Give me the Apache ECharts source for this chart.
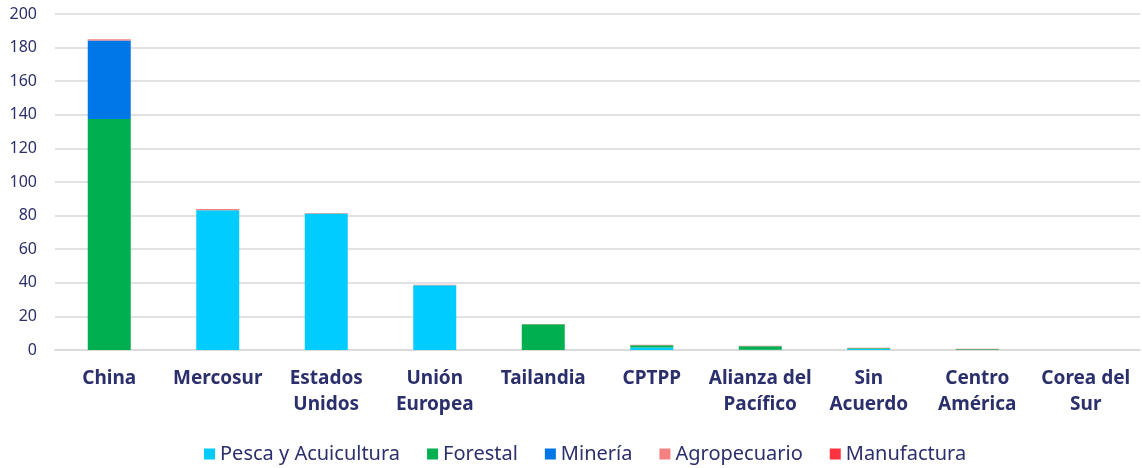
<!DOCTYPE html>
<html><head><meta charset="utf-8">
<script src="https://cdn.jsdelivr.net/npm/echarts@6/dist/echarts.min.js"></script>
<style>html,body{margin:0;padding:0;background:#fff}#c{width:1142px;height:468px}</style>
</head><body><div id="c"></div>
<script>
const categories = ["China","Mercosur","Estados\nUnidos","Unión\nEuropea","Tailandia","CPTPP","Alianza del\nPacífico","Sin\nAcuerdo","Centro\nAmérica","Corea del\nSur"];
const pesca = [0, 83.2, 81.2, 38.6, 0, 1.5, 0.1, 0.6, 0, 0];
const forestal = [137.5, 0, 0, 0, 15.4, 1.3, 2.2, 0.5, 0.4, 0];
const mineria = [46.8, 0, 0, 0, 0, 0, 0, 0, 0, 0];
const agropecuario = [0.6, 0.7, 0.4, 0.2, 0.1, 0.3, 0.3, 0.3, 0.3, 0];
const manufactura = [0, 0, 0, 0, 0, 0, 0, 0, 0, 0];
const yTicks = {min: 0, max: 200, interval: 20};

const txt = '#2B2F6B';
const font = 'Noto Sans';
const mk = (name, data, color) => ({name, type:'bar', stack:'s', data, barWidth:43, itemStyle:{color}});
const chart = echarts.init(document.getElementById('c'));
chart.setOption({
  animation:false,
  grid:{left:55, right:2, top:14, bottom:118, containLabel:false},
  legend:{bottom:-1, left:199, itemWidth:11, itemHeight:11, itemGap:27, icon:'rect',
    textStyle:{color:txt, fontSize:20, fontFamily:font, padding:[0,0,0,0]}},
  xAxis:{type:'category', data:categories,
    axisLine:{lineStyle:{color:'#D9D9D9', width:1.5}}, axisTick:{show:false},
    axisLabel:{color:txt, fontSize:19, fontWeight:'bold', fontFamily:font, lineHeight:26, margin:16, interval:0}},
  yAxis:{type:'value', min:yTicks.min, max:yTicks.max, interval:yTicks.interval,
    axisLabel:{color:txt, fontSize:16, fontFamily:font, margin:18},
    splitLine:{lineStyle:{color:'#D9D9D9', width:1.5}}},
  series:[
    mk('Pesca y Acuicultura', pesca, '#00CCFF'),
    mk('Forestal', forestal, '#00B050'),
    mk('Minería', mineria, '#0077E6'),
    mk('Agropecuario', agropecuario, '#F4817F'),
    mk('Manufactura', manufactura, '#FF3340')
  ]
});
</script></body></html>
